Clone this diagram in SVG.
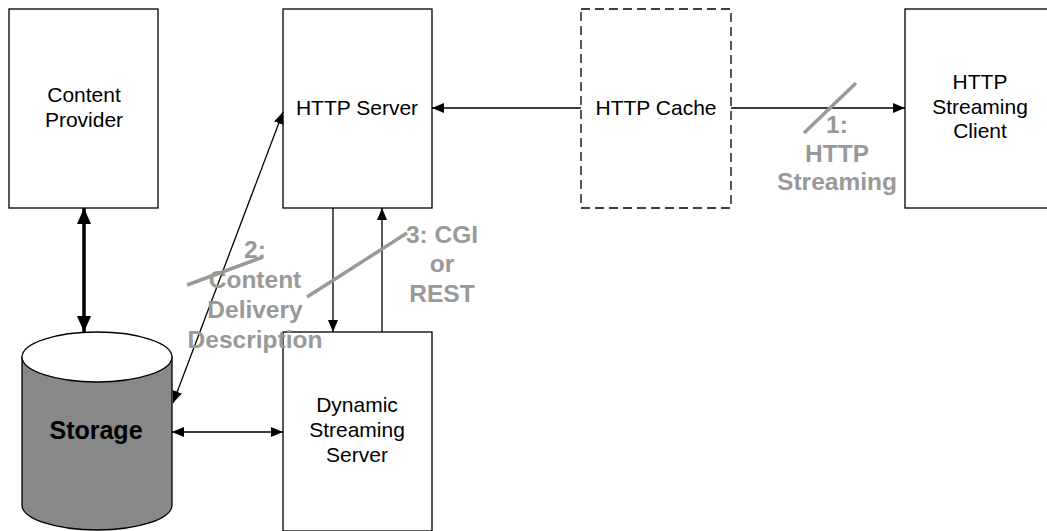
<svg xmlns="http://www.w3.org/2000/svg" width="1047" height="531" viewBox="0 0 1047 531">
<style>
.box{fill:#fff;stroke:#000;stroke-width:1.3}
.dash{fill:#fff;stroke:#000;stroke-width:1.3;stroke-dasharray:9,5}
.t{font-family:"Liberation Sans",Arial,sans-serif;font-size:21px;fill:#000;text-anchor:middle}
.b{font-family:"Liberation Sans",Arial,sans-serif;font-size:25px;font-weight:bold;fill:#000;text-anchor:middle}
.g{font-family:"Liberation Sans",Arial,sans-serif;font-size:24.5px;font-weight:bold;fill:#999;text-anchor:middle}
.c{fill:none;stroke:#000;stroke-width:1.3}
.thick{fill:none;stroke:#000;stroke-width:3.5}
.strike{stroke:#999;stroke-width:3.5;fill:none}
</style>
<defs>
<marker id="ah" markerWidth="12" markerHeight="10" refX="12" refY="5" orient="auto-start-reverse" markerUnits="userSpaceOnUse">
<path d="M0,0 L12,5 L0,10 Z" fill="#000"/>
</marker>
<marker id="ahb" markerWidth="16" markerHeight="14" refX="16" refY="7" orient="auto-start-reverse" markerUnits="userSpaceOnUse">
<path d="M0,0 L16,7 L0,14 Z" fill="#000"/>
</marker>
</defs>
<rect width="1047" height="531" fill="#fff"/>
<g id="content-provider">
<rect class="box" x="9" y="9" width="149" height="199"/>
<text class="t" x="84" y="102">Content</text>
<text class="t" x="84" y="127">Provider</text>
</g>
<g id="http-server">
<rect class="box" x="283" y="9" width="149" height="199"/>
<text class="t" x="357" y="115">HTTP Server</text>
</g>
<g id="http-cache">
<rect class="dash" x="581" y="9" width="150" height="199"/>
<text class="t" x="656" y="115">HTTP Cache</text>
</g>
<g id="http-streaming-client">
<rect class="box" x="905" y="9" width="150" height="199"/>
<text class="t" x="980" y="89">HTTP</text>
<text class="t" x="980" y="113.5">Streaming</text>
<text class="t" x="980" y="138">Client</text>
</g>
<g id="storage">
<path d="M22,357 L22,505 A75,25 0 0 0 172,505 L172,357 Z" fill="#888" stroke="#000" stroke-width="1.3"/>
<ellipse cx="97" cy="357" rx="75" ry="25" fill="#fff" stroke="#000" stroke-width="1.3"/>
<text class="b" x="96" y="439">Storage</text>
</g>
<g id="dynamic-streaming-server">
<rect class="box" x="283" y="332" width="149" height="199"/>
<text class="t" x="357" y="412">Dynamic</text>
<text class="t" x="357" y="437">Streaming</text>
<text class="t" x="357" y="461.5">Server</text>
</g>
<g id="connectors">
<line class="c" x1="581" y1="108" x2="432" y2="108" marker-end="url(#ah)"/>
<line class="c" x1="731" y1="108" x2="905" y2="108" marker-end="url(#ah)"/>
<line class="thick" x1="84" y1="208" x2="84" y2="332" marker-start="url(#ahb)" marker-end="url(#ahb)"/>
<line class="c" x1="173" y1="403" x2="283" y2="112" marker-start="url(#ah)" marker-end="url(#ah)"/>
<line class="c" x1="172" y1="432" x2="283" y2="432" marker-start="url(#ah)" marker-end="url(#ah)"/>
<line class="c" x1="333" y1="208" x2="333" y2="332" marker-end="url(#ah)"/>
<line class="c" x1="382" y1="332" x2="382" y2="208" marker-end="url(#ah)"/>
</g>
<g id="labels">
<line class="strike" x1="804" y1="133" x2="856" y2="83"/>
<text class="g" x="837" y="133">1:</text>
<text class="g" x="837" y="161.5">HTTP</text>
<text class="g" x="837" y="190">Streaming</text>
<line class="strike" x1="187" y1="285" x2="263" y2="257"/>
<text class="g" x="255" y="258">2:</text>
<text class="g" x="255" y="288">Content</text>
<text class="g" x="255" y="318">Delivery</text>
<text class="g" x="255" y="348">Description</text>
<line class="strike" x1="307" y1="297" x2="407" y2="233"/>
<text class="g" x="442" y="243">3: CGI</text>
<text class="g" x="442" y="272">or</text>
<text class="g" x="442" y="302">REST</text>
</g>
</svg>
